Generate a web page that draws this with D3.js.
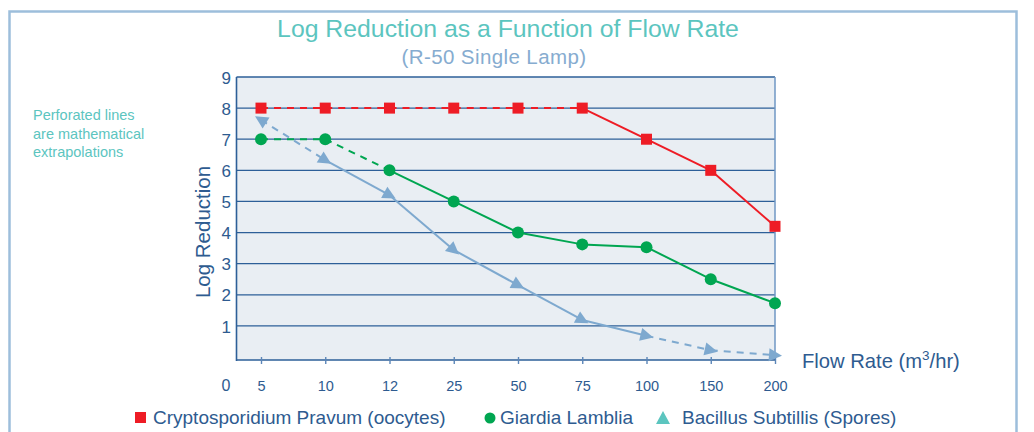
<!DOCTYPE html>
<html><head><meta charset="utf-8">
<script src="https://cdn.jsdelivr.net/npm/d3@7/dist/d3.min.js"></script>
<style>body{margin:0;background:#fff}svg{display:block}text{font-family:"Liberation Sans",Arial,sans-serif}</style>
</head><body>
<svg id="c" width="1034" height="432"></svg>
<script>
const categories = ["5","10","12","25","50","75","100","150","200"];
const cryptoValues = [8,8,8,8,8,8,7,6,4.2];
const giardiaValues = [7,7,6,5.0,4.0,3.62,3.53,2.5,1.73];
const bacillusValues = [7.62,6.33,5.2,3.44,2.31,1.19,0.68,0.22,0.06];
// index ranges drawn dashed (extrapolated)
const cryptoDashed = [[0,5]];
const giardiaDashed = [[0,2]];
const bacillusDashed = [[0,1],[6,8]];
const yTicks = [1,2,3,4,5,6,7,8,9];
const titleText = "Log Reduction as a Function of Flow Rate";
const subtitleText = "(R-50 Single Lamp)";
const noteLines = ["Perforated lines","are mathematical","extrapolations"];
const legendNames = ["Cryptosporidium Pravum (oocytes)","Giardia Lamblia","Bacillus Subtillis (Spores)"];

const svg = d3.select("#c");
const axisCol = "#2d5f98", textCol = "#2e5b90";
const red = "#ee1c25", green = "#00a651", blueL = "#7ea9cf", teal = "#5cc5bf";

// outer frame
svg.append("rect").attr("x",9.5).attr("y",11.5).attr("width",1007).attr("height",440)
  .attr("fill","none").attr("stroke","#9dbedb").attr("stroke-width",2.5);

const x = d3.scalePoint().domain(categories).range([261,775]);
const y = d3.scaleLinear().domain([0,9]).range([357,77]);
const plotL = 236.5, plotR = 775, plotT = 77, plotB = 360;

svg.append("rect").attr("x",plotL).attr("y",plotT).attr("width",plotR-plotL).attr("height",plotB-plotT)
  .attr("fill","#e9eef3");
// grid
svg.append("g").selectAll("line").data(yTicks).join("line")
  .attr("x1",plotL).attr("x2",plotR).attr("y1",d=>y(d)).attr("y2",d=>y(d))
  .attr("stroke",axisCol).attr("stroke-width",1.3);
// right border
svg.append("line").attr("x1",plotR).attr("x2",plotR).attr("y1",plotT).attr("y2",plotB)
  .attr("stroke","#6f97c4").attr("stroke-width",1.5);
// left & bottom axis
svg.append("line").attr("x1",plotL).attr("x2",plotL).attr("y1",plotT).attr("y2",plotB+1)
  .attr("stroke",axisCol).attr("stroke-width",1.6);
svg.append("line").attr("x1",plotL).attr("x2",plotR+1).attr("y1",plotB).attr("y2",plotB)
  .attr("stroke",axisCol).attr("stroke-width",1.6);

// y axis labels
const yAxis = d3.axisLeft(y).tickValues(yTicks).tickSize(0).tickPadding(0);
const gy = svg.append("g").attr("transform",`translate(${231},0)`).call(yAxis);
gy.select(".domain").remove();
gy.selectAll("text").attr("fill",textCol).attr("font-size",17).attr("dy","0.36em")
  .style("font-family",'"Liberation Sans",Arial,sans-serif');

// x axis ticks & labels
const xAxis = d3.axisBottom(x).tickSize(7).tickPadding(17);
const gx = svg.append("g").attr("transform",`translate(0,${plotB-3})`).call(xAxis);
gx.select(".domain").remove();
gx.selectAll("line").attr("stroke","#5b86b8").attr("stroke-width",1.4);
gx.selectAll("text").attr("fill",textCol).attr("font-size",14.5)
  .style("font-family",'"Liberation Sans Narrow","Arial Narrow",sans-serif');
svg.append("text").attr("x",226).attr("y",391).attr("text-anchor","middle")
  .attr("fill",textCol).attr("font-size",16).text("0");

// titles
svg.append("text").attr("x",508).attr("y",37).attr("text-anchor","middle")
  .attr("fill",teal).attr("font-size",24.8).text(titleText);
svg.append("text").attr("x",494).attr("y",64).attr("text-anchor","middle")
  .attr("fill","#86acd0").attr("font-size",20.5).attr("letter-spacing",0.4).text(subtitleText);
svg.append("text").attr("transform","translate(210,232) rotate(-90)").attr("text-anchor","middle")
  .attr("fill",textCol).attr("font-size",20.5).text("Log Reduction");
const fr = svg.append("text").attr("x",802).attr("y",368).attr("fill",textCol).attr("font-size",20.2);
fr.append("tspan").text("Flow Rate (m");
fr.append("tspan").attr("font-size",13.5).attr("dy",-8).text("3");
fr.append("tspan").attr("dy",8).text("/hr)");

// note
svg.append("g").selectAll("text").data(noteLines).join("text")
  .attr("x",33).attr("y",(d,i)=>120+i*18.5).attr("fill",teal).attr("font-size",14.5).text(d=>d);

// series lines
function drawSeries(vals, dashed, color, width){
  const isDashed = i => dashed.some(([a,b]) => i>=a && i<b);
  const line = d3.line().x(d=>x(d.c)).y(d=>y(d.v));
  for(let i=0;i<vals.length-1;i++){
    svg.append("path").datum([{c:categories[i],v:vals[i]},{c:categories[i+1],v:vals[i+1]}])
      .attr("d",line).attr("fill","none").attr("stroke",color).attr("stroke-width",width)
      .attr("stroke-dasharray",isDashed(i)?"7,6":null);
  }
}
drawSeries(bacillusValues,bacillusDashed,blueL,2);
drawSeries(giardiaValues,giardiaDashed,green,2);
drawSeries(cryptoValues,cryptoDashed,red,2);

// bacillus arrowheads
const triPath = "M7,0 L-6,-6.5 L-6,6.5 Z";
bacillusValues.forEach((v,i)=>{
  let a,b;
  if(i===0){a=1;b=0;} else {a=i-1;b=i;}
  const ang = Math.atan2(y(bacillusValues[b])-y(bacillusValues[a]), x(categories[b])-x(categories[a]))*180/Math.PI;
  svg.append("path").attr("d",triPath)
    .attr("transform",`translate(${x(categories[i])},${y(v)}) rotate(${ang})`)
    .attr("fill",blueL);
});
// giardia dots
svg.append("g").selectAll("circle").data(giardiaValues).join("circle")
  .attr("cx",(d,i)=>x(categories[i])).attr("cy",d=>y(d)).attr("r",6).attr("fill",green);
// crypto squares
svg.append("g").selectAll("rect").data(cryptoValues).join("rect")
  .attr("x",(d,i)=>x(categories[i])-5.5).attr("y",d=>y(d)-5.5).attr("width",11).attr("height",11).attr("fill",red);

// legend
const lg = svg.append("g");
lg.append("rect").attr("x",135).attr("y",412).attr("width",11).attr("height",11).attr("fill",red);
lg.append("text").attr("x",153).attr("y",424).attr("fill",textCol).attr("font-size",19).text(legendNames[0]);
lg.append("circle").attr("cx",490).attr("cy",418).attr("r",5.5).attr("fill",green);
lg.append("text").attr("x",500).attr("y",424).attr("fill",textCol).attr("font-size",19).text(legendNames[1]);
lg.append("path").attr("d","M663,411 L670,424 L656,424 Z").attr("fill",teal);
lg.append("text").attr("x",682).attr("y",424).attr("fill",textCol).attr("font-size",19).text(legendNames[2]);
</script>
</body></html>
